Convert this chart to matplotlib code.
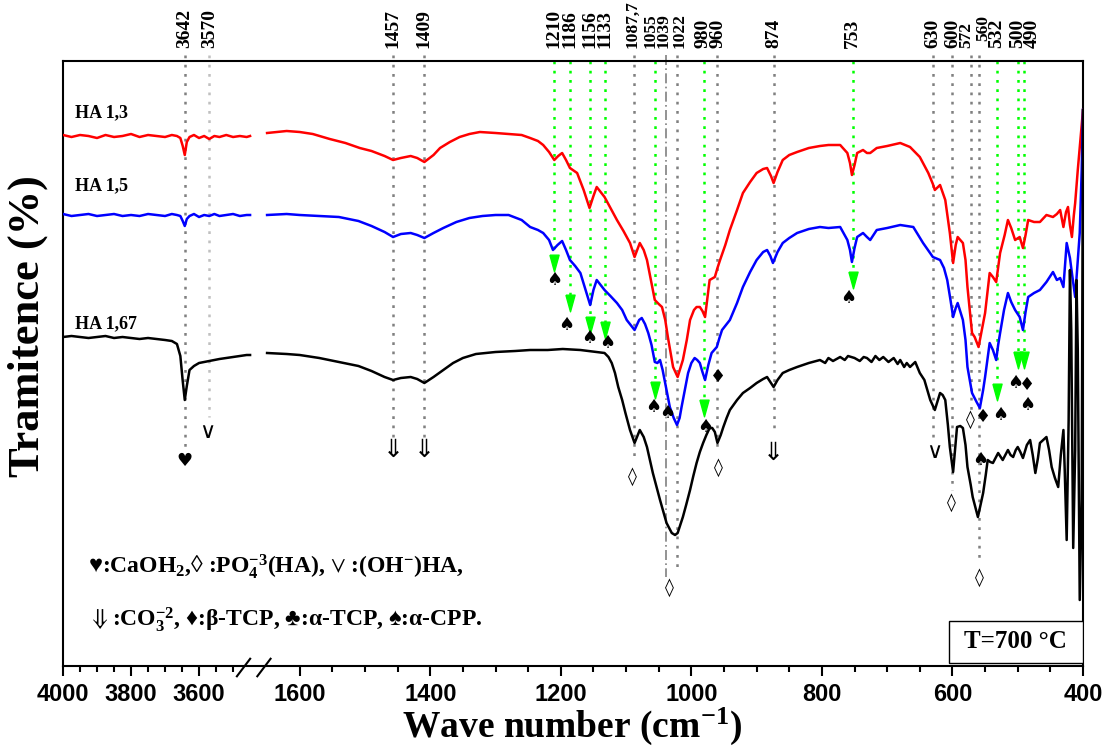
import numpy as np
import matplotlib
matplotlib.use('Agg')
import matplotlib.pyplot as plt
from matplotlib.ticker import FixedLocator, FixedFormatter
from matplotlib.patches import Rectangle
import matplotlib.transforms as mtransforms

plt.rcParams['mathtext.fontset'] = 'custom'
plt.rcParams['mathtext.rm'] = 'Liberation Serif:bold'
plt.rcParams['mathtext.bf'] = 'Liberation Serif:bold'
plt.rcParams['mathtext.it'] = 'Liberation Serif:bold'
plt.rcParams['mathtext.fallback'] = 'stix'

SERIF = 'Liberation Serif'
SANS = 'Liberation Sans'

# ---------------- spectra (transmittance, a.u.) ----------------
wn_left = [4000, 3975, 3950, 3925, 3900, 3875, 3850, 3825, 3800, 3775, 3750, 3725,
           3700, 3680, 3665, 3655, 3648, 3642, 3636, 3628, 3615, 3600, 3585, 3570,
           3555, 3540, 3520, 3500, 3480, 3460, 3450]
red_left = [531, 529, 531, 530, 528, 531, 529, 530, 532, 529, 531, 530,
            529, 531, 530, 528, 520, 511, 524, 529, 531, 528, 530, 527,
            530, 529, 531, 529, 530, 529, 530]
blue_left = [452, 450, 451, 452, 450, 451, 452, 450, 451, 450, 452, 451,
             450, 452, 451, 450, 445, 440, 447, 450, 452, 449, 451, 450,
             452, 450, 451, 452, 450, 451, 451]
black_left = [329, 330, 329, 328, 329, 330, 328, 329, 328, 327, 328, 327,
              326, 325, 322, 310, 285, 266, 280, 296, 300, 303, 304, 305,
              306, 307, 308, 309, 310, 311, 311]

wn_red = [1650, 1620, 1600, 1580, 1554, 1530, 1508, 1490, 1470, 1457, 1445, 1430,
          1420, 1409, 1395, 1385, 1370, 1355, 1340, 1324, 1300, 1280, 1260, 1247,
          1235, 1227, 1218, 1210, 1204, 1198, 1192, 1186, 1175, 1165, 1156, 1150,
          1145, 1139, 1133, 1124, 1114, 1104, 1094, 1087, 1079, 1073, 1068, 1062,
          1056, 1050, 1045, 1040, 1036, 1032, 1028, 1021, 1013, 1007, 1002, 996,
          992, 987, 983, 979, 972, 964, 960, 956, 948, 941, 930, 921,
          910, 900, 890, 884, 878, 874, 868, 860, 850, 838, 820, 803,
          790, 772, 761, 757, 754, 750, 746, 737, 731, 726, 716, 700,
          680, 665, 650, 637, 630, 627, 619, 611, 604, 599, 595, 592,
          584, 580, 577, 570, 566, 560, 555, 550, 543, 538, 533, 527,
          520, 515, 510, 504, 497, 492, 488, 484, 475, 466, 456, 446,
          440, 435, 430, 426, 423, 420, 417, 414, 412, 408, 404, 400]
red_right = [533, 535, 534, 532, 527, 523, 518, 515, 510, 506, 508, 510,
             508, 504, 511, 518, 524, 529, 532, 534, 533, 532, 531, 528,
             525, 521, 514, 506, 510, 513, 506, 498, 493, 476, 458, 470,
             479, 474, 469, 458, 446, 435, 423, 409, 423, 416, 406, 386,
             366, 362, 359, 346, 329, 314, 299, 289, 306, 326, 346, 356,
             359, 359, 355, 349, 386, 389, 398, 406, 421, 436, 456, 473,
             484, 493, 497, 498, 490, 483, 494, 506, 511, 514, 518, 520,
             521, 521, 513, 503, 491, 501, 513, 516, 513, 513, 518, 520,
             523, 519, 509, 493, 482, 476, 481, 466, 433, 403, 421, 429,
             423, 406, 379, 333, 329, 319, 336, 353, 393, 389, 384, 413,
             431, 446, 438, 426, 429, 418, 431, 446, 444, 444, 451, 449,
             452, 456, 439, 454, 459, 441, 429, 451, 463, 496, 526, 556]

wn_blue = [1650, 1620, 1600, 1570, 1540, 1510, 1490, 1470, 1457, 1445, 1430, 1420,
           1409, 1395, 1380, 1360, 1340, 1320, 1300, 1280, 1260, 1247, 1235, 1227,
           1218, 1212, 1205, 1198, 1192, 1186, 1178, 1170, 1162, 1155, 1150, 1145,
           1139, 1133, 1124, 1114, 1106, 1099, 1087, 1080, 1076, 1071, 1066, 1061,
           1056, 1052, 1048, 1044, 1041, 1037, 1033, 1027, 1022, 1018, 1015, 1010,
           1005, 1000, 995, 991, 987, 983, 979, 974, 969, 965, 961, 957,
           953, 941, 930, 921, 910, 900, 890, 884, 879, 875, 868, 860,
           850, 838, 820, 803, 790, 772, 761, 757, 754, 750, 746, 737,
           731, 726, 716, 700, 680, 660, 645, 630, 619, 613, 608, 603,
           599, 595, 592, 584, 580, 577, 570, 563, 558, 553, 550, 546,
           543, 538, 533, 530, 527, 521, 515, 510, 504, 497, 492, 488,
           484, 475, 466, 456, 446, 440, 435, 430, 427, 425, 420, 417,
           412, 408, 405, 402, 400]
blue_right = [451, 452, 451, 450, 449, 445, 440, 434, 429, 432, 433, 431,
              428, 433, 438, 444, 448, 450, 451, 451, 446, 439, 436, 433,
              426, 416, 421, 425, 416, 406, 400, 393, 376, 361, 376, 386,
              381, 376, 370, 363, 356, 346, 336, 346, 348, 342, 333, 321,
              304, 303, 306, 296, 286, 273, 259, 248, 241, 248, 259, 276,
              293, 303, 308, 306, 303, 294, 286, 301, 313, 316, 319, 328,
              336, 346, 363, 379, 394, 406, 414, 416, 410, 403, 414, 423,
              428, 433, 437, 439, 438, 439, 426, 416, 404, 418, 429, 433,
              429, 426, 436, 438, 441, 439, 423, 409, 406, 398, 386, 366,
              349, 358, 363, 346, 326, 299, 273, 264, 258, 276, 289, 308,
              323, 316, 306, 321, 333, 356, 373, 364, 356, 349, 336, 354,
              369, 373, 376, 384, 394, 386, 388, 379, 406, 423, 408, 393,
              369, 406, 433, 496, 556]

wn_black = [1650, 1620, 1600, 1570, 1540, 1510, 1490, 1470, 1457, 1445, 1430, 1420,
            1409, 1395, 1380, 1365, 1350, 1330, 1300, 1270, 1247, 1220, 1197, 1170,
            1145, 1133, 1127, 1122, 1117, 1112, 1106, 1101, 1094, 1087, 1079, 1073,
            1068, 1059, 1048, 1038, 1030, 1025, 1021, 1013, 1008, 1002, 997, 992,
            987, 982, 977, 972, 968, 964, 960, 955, 951, 946, 941, 930,
            921, 910, 900, 890, 884, 879, 874, 868, 860, 850, 838, 820,
            803, 795, 790, 783, 772, 765, 760, 750, 742, 736, 731, 724,
            718, 712, 706, 698, 690, 684, 680, 674, 670, 665, 657, 650,
            643, 634, 627, 619, 615, 611, 607, 604, 599, 596, 593,
            588, 584, 580, 577, 572, 569, 561, 557, 553, 549, 546, 542,
            538, 534, 530, 527, 523, 519, 515, 511, 507, 503, 500, 496,
            492, 486, 481, 477, 473, 469, 466, 461, 456, 452, 448, 443,
            438, 434, 430, 428, 425, 422, 420, 418, 415, 412, 410, 408,
            405, 402, 400]
black_right = [313, 312, 311, 308, 304, 300, 295, 289, 286, 288, 289, 287,
               283, 289, 296, 303, 308, 312, 314, 315, 316, 316, 317, 316,
               314, 313, 309, 303, 293, 279, 266, 253, 236, 223, 236, 229,
               219, 193, 166, 143, 133, 131, 133, 149, 161, 176, 190, 203,
               214, 223, 231, 238, 238, 234, 223, 231, 239, 248, 256, 266,
               273, 278, 283, 287, 289, 284, 279, 286, 293, 296, 299, 303,
               306, 303, 308, 305, 309, 306, 310, 308, 305, 309, 308, 304,
               310, 306, 309, 304, 308, 302, 306, 299, 303, 299, 304, 293,
               286, 266, 256, 273, 271, 266, 241, 219, 194, 216, 239,
               240, 238, 221, 199, 181, 169, 149, 161, 173, 191, 206, 204,
               203, 208, 213, 210, 206, 211, 216, 211, 209, 216, 219, 214,
               208, 221, 226, 211, 193, 208, 223, 226, 229, 216, 199, 188,
               179, 211, 236, 196, 126, 246, 396, 336, 118, 216, 386, 316,
               66, 166, 556]

# ---------------- band assignments ----------------
peak_wn = [3642, 3570, 1457, 1409, 1210, 1186, 1156, 1133, 1087.7, 1055, 1039, 1022,
           980, 960, 874, 753, 630, 600, 572, 560, 532, 500, 490]
peak_lbl = ['3642', '3570', '1457', '1409', '1210', '1186', '1156', '1133', '1087,7',
            '1055', '1039', '1022', '980', '960', '874', '753', '630', '600', '572',
            '560', '532', '500', '490']
peak_kind = ['gray', 'light', 'gray', 'gray', 'green', 'green', 'green', 'green', 'gray',
             'green', 'dashdot', 'gray', 'green', 'gray', 'gray', 'green', 'gray', 'gray',
             'gray', 'gray', 'green', 'green', 'green']
peak_end = [218, 249, 228, 228, 403, 363, 341, 336, 208, 276, 89, 93,
            258, 216, 234, 386, 228, 176, 256, 106, 274, 306, 306]

# symbols placed under the bands
sym_char = ['♥', '∨', '⇓', '⇓', '♠', '♠', '♠', '♠', '◊', '♠', '♠', '◊', '♠', '◊', '♦',
            '⇓', '♠', '∨', '◊', '◊', '◊', '♦', '♠', '♠', '♠', '♦', '♠']
sym_wn = [3642, 3575, 1457, 1409, 1210, 1191, 1157, 1129, 1090, 1059, 1037, 1033, 979,
          959, 959, 874, 759, 628, 601, 573, 558, 553, 558, 527, 504, 485, 486]
sym_val = [205, 234, 216, 216, 386, 341, 328, 323, 189, 259, 253, 78, 239,
           198, 289, 213, 368, 214, 163, 246, 88, 249, 206, 251, 283, 281, 261]

major_ticks = [4000, 3800, 3600, 1600, 1400, 1200, 1000, 800, 600, 400]
minor_ticks = [3950, 3900, 3850, 3750, 3700, 3650, 3550, 3500,
               1550, 1500, 1450, 1350, 1300, 1250, 1150, 1100, 1050,
               950, 900, 850, 750, 700, 650, 550, 500, 450]

# ---------------- broken wavenumber scale ----------------
R_SCALE = 0.6525      # fingerprint region
L_SCALE = 0.34        # OH stretching region
B1, B2 = 1650, 3450
GAP = 17


def fwd(x):
    x = np.asarray(x, dtype=float)
    u1 = B1 * R_SCALE
    gap = u1 + (x - B1) * GAP / (B2 - B1)
    left = u1 + GAP + (x - B2) * L_SCALE
    return np.where(x <= B1, x * R_SCALE, np.where(x >= B2, left, gap))


def inv(u):
    u = np.asarray(u, dtype=float)
    u1 = B1 * R_SCALE
    u2 = u1 + GAP
    return np.where(u <= u1, u / R_SCALE,
                    np.where(u >= u2, B2 + (u - u2) / L_SCALE,
                             B1 + (u - u1) * (B2 - B1) / GAP))


fig = plt.figure(figsize=(11.07, 7.51), dpi=100)
ax = fig.add_axes([63 / 1107, 85 / 751, 1020 / 1107, 605 / 751])
ax.set_xscale('function', functions=(fwd, inv))
ax.set_xlim(4000, 400)
ax.set_ylim(0, 605)

for wl, wr, yl, yr, c in [(wn_left, wn_red, red_left, red_right, 'red'),
                          (wn_left, wn_blue, blue_left, blue_right, 'blue'),
                          (wn_left, wn_black, black_left, black_right, 'black')]:
    ax.plot(wl, yl, color=c, lw=1.8, zorder=3)
    ax.plot(wr, yr, color=c, lw=1.8, zorder=3)

# band guide lines
lab_trans = mtransforms.blended_transform_factory(ax.transData, ax.transAxes)
nudge = {'490': 8, '560': 5, '572': -4, '1055': -5, '1039': -2, '1022': 3,
         '1087,7': -2, '980': -1, '960': 1}
small = ('1087,7', '1055', '1039', '1022', '572', '560')
tri = [(-0.55, 1.0), (0.55, 1.0), (0.0, -1.0), (-0.55, 1.0)]
for w, lbl, kind, end in zip(peak_wn, peak_lbl, peak_kind, peak_end):
    if kind == 'green':
        ax.plot([w, w], [605, end + 8], color='#00ff00', lw=1.8,
                ls=(0, (1.1, 2.6)), zorder=2)
        ax.plot([w], [end], marker=tri, ms=12, color='#00ff00', mec='#00ff00', zorder=4)
    else:
        col = '#c0c0c0' if kind == 'light' else '#808080'
        ls = (0, (6, 2, 1, 2)) if kind == 'dashdot' else (0, (1.1, 2.6))
        lw = 1.2 if kind == 'dashdot' else 1.8
        ax.plot([w, w], [611, end], color=col, lw=lw, ls=ls, zorder=2, clip_on=False)
    off = mtransforms.offset_copy(lab_trans, fig=fig, x=nudge.get(lbl, 0) * 0.72,
                                  y=5 if lbl == '560' else 0, units='points')
    ax.text(w, 1.022, lbl, transform=off, rotation=90, ha='center', va='bottom',
            fontsize=12.5 if lbl in small else 14, fontweight='bold', family=SERIF)

for ch, w, v in zip(sym_char, sym_wn, sym_val):
    size = {'⇓': 18, '∨': 16}.get(ch, 13)
    ax.text(w, v, ch, ha='center', va='center', fontsize=size,
            family='DejaVu Sans', color='black', zorder=5)

# axis cosmetics
for s in ax.spines.values():
    s.set_linewidth(1.5)
ax.yaxis.set_visible(False)
ax.xaxis.set_major_locator(FixedLocator(major_ticks))
ax.xaxis.set_major_formatter(FixedFormatter([str(t) for t in major_ticks]))
ax.xaxis.set_minor_locator(FixedLocator(minor_ticks))
ax.tick_params(axis='x', which='major', direction='out', length=7, width=1.5,
               labelsize=17, pad=5)
ax.tick_params(axis='x', which='minor', direction='out', length=4, width=1.5)
for t in ax.get_xticklabels():
    t.set_family(SANS)
    t.set_fontweight('bold')

# axis break marks
for xb in (0.177, 0.197):
    ax.plot([xb - 0.0065, xb + 0.0065], [-0.017, 0.012], transform=ax.transAxes,
            color='black', lw=1.5, clip_on=False, zorder=6)

fig.text(572 / 1107, 1 - 726 / 751, r'Wave number (cm$^{\mathbf{-1}}$)', ha='center',
         va='center', fontsize=27, fontweight='bold', family=SERIF)
fig.text(28 / 1107, 1 - 326 / 751, 'Tramitence (%)', rotation=90, ha='center',
         va='center', fontsize=32, fontweight='bold', family=SERIF)

for lbl, yy in [('HA 1,3', 113), ('HA 1,5', 186), ('HA 1,67', 324)]:
    fig.text(75 / 1107, 1 - yy / 751, lbl, ha='left', va='center', fontsize=13,
             fontweight='bold', family=SERIF)

fig.text(88 / 1107, 1 - 567 / 751,
         r'♥:CaOH$_\mathbf{2}$,◊ :PO$_\mathbf{4}^\mathbf{-3}$(HA), $\vee$ :(OH$^\mathbf{-}$)HA,',
         ha='left', va='center', fontsize=17, fontweight='bold', family=SERIF)
fig.text(88 / 1107, 1 - 620 / 751,
         r'$\Downarrow$:CO$_\mathbf{3}^\mathbf{-2}$, ♦:β-TCP, ♣:α-TCP, ♠:α-CPP.',
         ha='left', va='center', fontsize=17, fontweight='bold', family=SERIF)

ax.add_patch(Rectangle((0.8686, 0.005), 0.1314, 0.069, transform=ax.transAxes,
                       facecolor='white', edgecolor='black', lw=1.0, zorder=6))
ax.text(0.934, 0.040, 'T=700 °C', transform=ax.transAxes, ha='center', va='center',
        fontsize=18, fontweight='bold', family=SERIF, zorder=7)

fig.savefig('out.png', dpi=100)
